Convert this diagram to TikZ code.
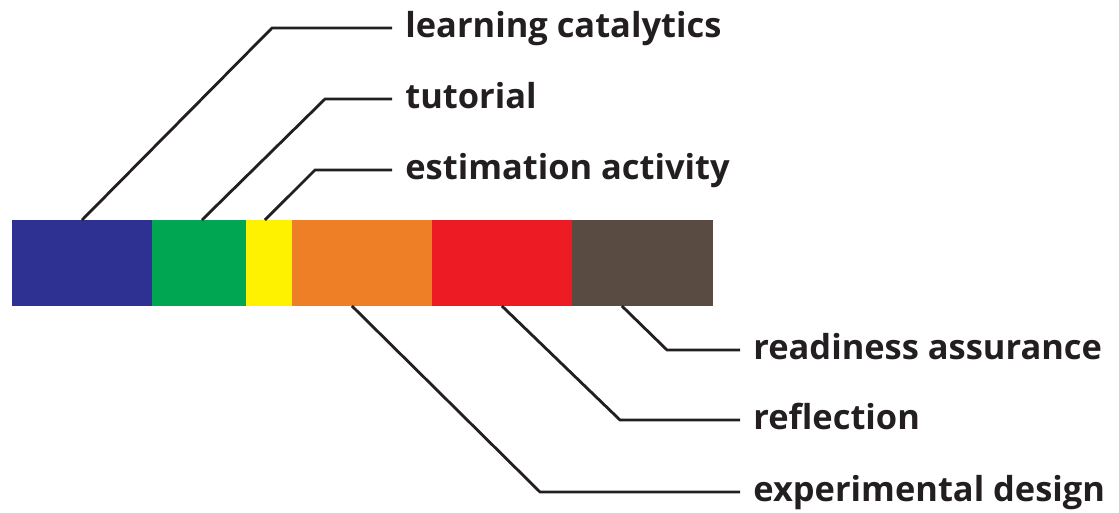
\documentclass[tikz,border=0pt]{standalone}
\usepackage{fontspec}
\setmainfont{Open Sans}
\usetikzlibrary{positioning}

\definecolor{cblue}{HTML}{2E3192}
\definecolor{cgreen}{HTML}{00A651}
\definecolor{cyellow}{HTML}{FFF200}
\definecolor{corange}{HTML}{EE7F26}
\definecolor{cred}{HTML}{ED1C24}
\definecolor{cbrown}{HTML}{594A42}
\definecolor{cink}{HTML}{231F20}

\tikzset{
  seg/.style={rectangle, inner sep=0pt, outer sep=0pt, minimum height=1.72cm},
  leader/.style={draw=cink, line width=1.6pt},
  tag/.style={anchor=west, inner sep=0pt, inner xsep=0.26cm, text height=0.4cm, text depth=0pt,
    font=\fontsize{19.6}{23}\selectfont\bfseries, text=cink}
}

\begin{document}
\begin{tikzpicture}[x=0.02cm,y=-0.02cm]
	\useasboundingbox (0,0) rectangle (1119,513);
	% the bar
	\node[seg,fill=cblue,minimum width=2.8cm] (lc) at (82,263) {};
	\node[seg,fill=cgreen,minimum width=1.88cm,right=0pt of lc] (tut) {};
	\node[seg,fill=cyellow,minimum width=0.92cm,right=0pt of tut] (est) {};
	\node[seg,fill=corange,minimum width=2.8cm,right=0pt of est] (exp) {};
	\node[seg,fill=cred,minimum width=2.8cm,right=0pt of exp] (refl) {};
	\node[seg,fill=cbrown,minimum width=2.82cm,right=0pt of refl] (ready) {};
	% labels
	\node[tag] (t_lc) at (392,28) {learning catalytics};
	\node[tag] (t_tut) at (392,99) {tutorial};
	\node[tag] (t_est) at (392,170) {estimation activity};
	\node[tag] (t_ready) at (740,350) {readiness assurance};
	\node[tag] (t_refl) at (740,420) {reflection};
	\node[tag] (t_exp) at (740,492) {experimental design};
	% leaders
	\draw[leader] (lc.north) -- (272,28) -- (t_lc.west);
	\draw[leader] ([xshift=0.06cm]tut.north) -- (325,99) -- (t_tut.west);
	\draw[leader] ([xshift=-0.08cm]est.north) -- (315,170) -- (t_est.west);
	\draw[leader] ([xshift=-0.41cm]ready.south) -- (667,350) -- (t_ready.west);
	\draw[leader] (refl.south) -- (620,420) -- (t_refl.west);
	\draw[leader] ([xshift=-0.2cm]exp.south) -- (540,492) -- (t_exp.west);
\end{tikzpicture}
\end{document}
